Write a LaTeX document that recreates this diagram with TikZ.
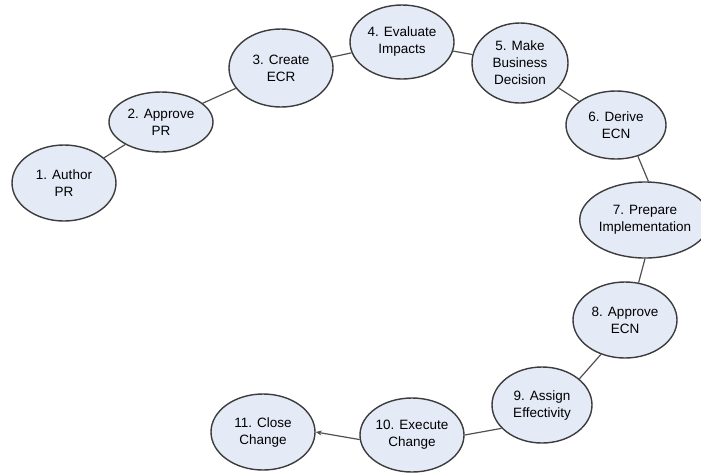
\documentclass[tikz,border=0pt]{standalone}
\usepackage{fontspec}
\setmainfont{Liberation Sans}
\usepackage{tikz}
\usetikzlibrary{shapes.geometric,arrows.meta}
\definecolor{stageFill}{HTML}{E4EAF6}
\definecolor{stageEdge}{HTML}{3C3C3C}
\newcommand{\stageWidth}[0]{104pt}
\newcommand{\stageHeight}[0]{76pt}

\begin{document}
\begin{tikzpicture}[x=1pt, y=-1pt]
  \tikzset{every stage/.style={ellipse, draw=stageEdge, line width=1.4pt, fill=stageFill,
      align=center, inner sep=0pt, minimum width=\stageWidth, minimum height=\stageHeight,
      font=\fontsize{13.5}{17}\selectfont},
    flow/.style={draw=stageEdge!90, line width=1.2pt}}
  \useasboundingbox (0,0) rectangle (701,475);
  \node[every stage](Step-1) at (64,183) {1. Author\\PR};
  \node[every stage, minimum height=60pt](Step-2) at (161,122) {2. Approve\\PR};
  \node[every stage, minimum height=78pt](Step-3) at (281,68) {3. Create\\ECR};
  \node[every stage, minimum height=74pt](Step-4) at (402,42) {4. Evaluate\\Impacts};
  \node[every stage, minimum width=96pt, minimum height=80pt](Step-5) at (520,63) {5. Make\\Business\\Decision};
  \node[every stage, minimum width=100pt, minimum height=68pt](Step-6) at (616,125) {6. Derive\\ECN};
  \node[every stage, minimum width=110pt](Step-7) at (645,220) {7. Prepare\\Implementation};
  \node[every stage](Step-8) at (625,320) {8. Approve\\ECN};
  \node[every stage, minimum width=100pt](Step-9) at (542,405) {9. Assign\\Effectivity};
  \node[every stage, minimum height=74pt](Step-10) at (412,435) {10. Execute\\Change};
  \node[every stage](Step-11) at (263,432) {11. Close\\Change};
  \draw[flow] (Step-1) -- (Step-2);
  \draw[flow] (Step-2) -- (Step-3);
  \draw[flow] (Step-3) -- (Step-4);
  \draw[flow] (Step-4) -- (Step-5);
  \draw[flow] (Step-5) -- (Step-6);
  \draw[flow] (Step-6.-55) -- (Step-7.85);
  \draw[flow] (Step-7.south) -- (Step-8.70);
  \draw[flow] (Step-8.-125) -- (Step-9.35);
  \draw[flow] (Step-9.-150) -- (Step-10.east);
  \draw[flow, -{Stealth[length=6pt, width=5pt]}] (Step-10.-175) -- (Step-11.east);
\end{tikzpicture}
\end{document}
